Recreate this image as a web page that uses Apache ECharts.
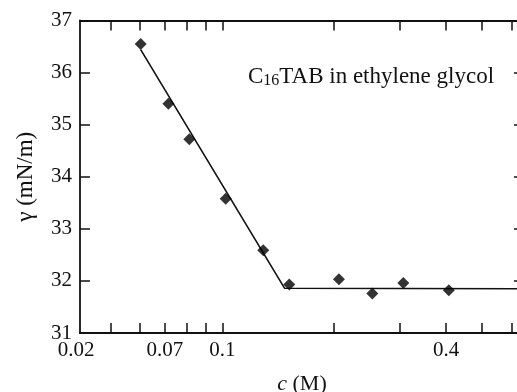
<!DOCTYPE html>
<html>
<head>
<meta charset="utf-8">
<script src="https://cdn.jsdelivr.net/npm/echarts@6/dist/echarts.min.js"></script>
<style>html,body{margin:0;padding:0;background:#fff;overflow:hidden}#c{width:517px;height:392px}</style>
</head>
<body>
<div id="c"></div>
<script>
// Measured data: concentration c (M) and surface tension gamma (mN/m)
var concC = [0.0603, 0.0716, 0.0815, 0.1021, 0.1289, 0.1514, 0.206, 0.2533, 0.307, 0.407];
var gammaVals = [36.55, 35.40, 34.72, 33.58, 32.59, 31.93, 32.03, 31.76, 31.96, 31.82];
// Fitted line (two segments)
var fitC = [0.0603, 0.147, 0.6485];
var fitGamma = [36.44, 31.86, 31.85];
// Axis range (log-scale concentration axis)
var xMinC = 0.0414, xMaxC = 0.6485;
var xTickC = [0.05, 0.06, 0.07, 0.08, 0.09, 0.1, 0.2, 0.3, 0.4, 0.5, 0.6];
var xLabelC = [0.0414, 0.07, 0.1, 0.4];
var xLabelText = ['0.02', '0.07', '0.1', '0.4'];
var yMin = 31, yMax = 37, yStep = 1;

var lg = Math.log10;
var FONT = '"Liberation Serif", "Times New Roman", serif';
var chart = echarts.init(document.getElementById('c'), null, {renderer: 'canvas'});
var labelVals = xLabelC.map(lg);
function xFmt(v) {
  var best = 0, d = Infinity;
  for (var i = 0; i < labelVals.length; i++) {
    var dd = Math.abs(labelVals[i] - v);
    if (dd < d) { d = dd; best = i; }
  }
  return best === 0 ? '{l|' + xLabelText[best] + '}' : xLabelText[best];
}
var lineStyle = {color: '#111', width: 1.8};
var tickStyle = {color: '#111', width: 1.5};
var xBase = {
  type: 'value', min: lg(xMinC), max: lg(xMaxC),
  splitLine: {show: false},
  axisLine: {show: true, onZero: false, lineStyle: lineStyle},
  axisTick: {show: true, inside: true, length: 10, lineStyle: tickStyle, customValues: xTickC.map(lg)}
};
var option = {
  animation: false,
  backgroundColor: '#fff',
  grid: {left: 80, top: 20.5, width: 444, height: 312.5, containLabel: false, outerBoundsMode: 'none'},
  xAxis: [
    Object.assign({}, xBase, {
      position: 'bottom',
      name: '{i|c} (M)', nameLocation: 'middle', nameGap: 40,
      nameTextStyle: {fontFamily: FONT, fontSize: 22, color: '#111',
        rich: {i: {fontFamily: FONT, fontStyle: 'italic', fontSize: 22, color: '#111'}}},
      axisLabel: {show: true, customValues: labelVals, formatter: xFmt, margin: 7,
        fontFamily: FONT, fontSize: 21, color: '#111',
        rich: {l: {fontFamily: FONT, fontSize: 21, color: '#111', padding: [0, 8, 0, 0]}}}
    }),
    Object.assign({}, xBase, {position: 'top', axisLabel: {show: false}})
  ],
  yAxis: [
    {type: 'value', min: yMin, max: yMax, interval: yStep, position: 'left',
     name: 'γ (mN/m)', nameLocation: 'middle', nameGap: 43, nameRotate: 90,
     nameTextStyle: {fontFamily: FONT, fontSize: 23, color: '#111'},
     splitLine: {show: false},
     axisLine: {show: true, onZero: false, lineStyle: lineStyle},
     axisTick: {show: true, inside: true, length: 10, lineStyle: tickStyle},
     axisLabel: {fontFamily: FONT, fontSize: 21, color: '#111', margin: 8}},
    {type: 'value', min: yMin, max: yMax, interval: yStep, position: 'right',
     splitLine: {show: false},
     axisLine: {show: true, onZero: false, lineStyle: lineStyle},
     axisTick: {show: true, inside: true, length: 10, lineStyle: tickStyle},
     axisLabel: {show: false}}
  ],
  graphic: [{
    type: 'text', left: 248, top: 65, z: 10,
    style: {
      text: 'C{s|16}TAB in ethylene glycol',
      font: '23px ' + FONT, fill: '#111',
      rich: {s: {fontFamily: FONT, fontSize: 16, fill: '#111', verticalAlign: 'bottom', padding: [9, 0, 0, 0]}}
    }
  }],
  series: [
    {type: 'line', data: fitC.map(function (c, i) { return [lg(c), fitGamma[i]]; }),
     showSymbol: false, symbol: 'none', lineStyle: {color: '#111', width: 1.6}, z: 2},
    {type: 'scatter', data: concC.map(function (c, i) { return [lg(c), gammaVals[i]]; }),
     symbol: 'diamond', symbolSize: [12, 12], itemStyle: {color: '#000'}, z: 3}
  ]
};
chart.setOption(option);
</script>
</body>
</html>
